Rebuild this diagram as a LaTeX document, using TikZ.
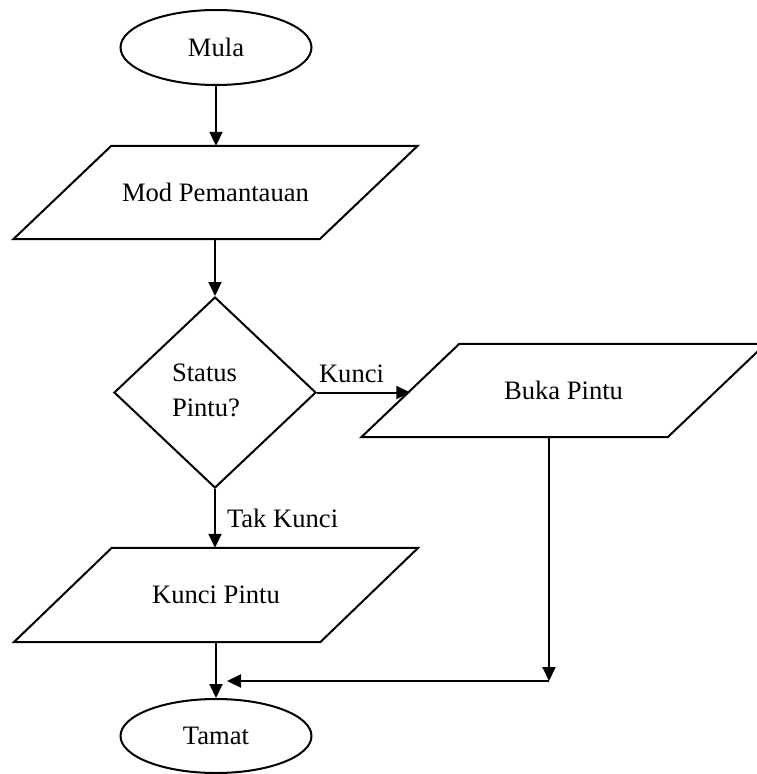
\documentclass[tikz,border=0pt]{standalone}
\usepackage{fontspec}
\setmainfont{Liberation Serif}
\usetikzlibrary{shapes.geometric,arrows.meta,calc}
\begin{document}
\begin{tikzpicture}[x=1pt,y=-1pt,
  every node/.style={font=\fontsize{26.6}{35}\selectfont},
  line/.style={line width=2pt},
  arr/.style={line width=2pt,-{Triangle[length=14pt,width=13pt]}},
  terminal/.style={ellipse,draw,line width=2pt,minimum width=191pt,minimum height=75pt,inner sep=0pt},
  iobody/.style={rectangle,inner sep=0pt,minimum width=306pt,minimum height=93pt},
  decision/.style={diamond,draw,line width=2pt,minimum width=202pt,minimum height=191pt,inner sep=0pt},
  lbl/.style={inner sep=0pt}]
\useasboundingbox (0,0) rectangle (756,774);
\newcommand{\iodraw}[1]{\draw[line width=2pt,line join=miter]
  ($(#1.north west)+(49,0)$) -- ($(#1.north east)+(49,0)$) --
  ($(#1.south east)+(-49,0)$) -- ($(#1.south west)+(-49,0)$) -- cycle;}
% nodes
\node[terminal] (mula) at (216,47.5) {Mula};
\node[iobody] (mod) at (215.5,192.5) {Mod Pemantauan};
\iodraw{mod}
\node[decision] (dec) at (215,392.5) {};
\node[lbl,align=left] (dtext) at (206,390) {Status\\Pintu?};
\node[iobody] (buka) at (563.5,390.5) {Buka Pintu};
\iodraw{buka}
\node[iobody,minimum height=94pt] (kunci) at (216,595) {Kunci Pintu};
\iodraw{kunci}
\node[terminal,minimum height=74pt] (tamat) at (216,736) {Tamat};
\coordinate (corner) at (549,681);
\coordinate (join) at (227,681);
% connectors
\draw[arr] (mula.south) -- (mula.south |- mod.north);
\draw[arr] (mod.south -| dec.north) -- (dec.north);
\draw[arr] (dec.east) -- (dec.east -| buka.west) node[lbl,pos=0.37,above=9pt] {Kunci};
\draw[arr] (dec.south) -- (dec.south |- kunci.north) node[lbl,midway,right=11pt] {Tak Kunci};
\draw[arr] (kunci.south -| tamat.north) -- (tamat.north);
\draw[arr] (buka.south -| corner) -- (corner);
\draw[arr] (corner) -- (join);
\end{tikzpicture}
\end{document}
